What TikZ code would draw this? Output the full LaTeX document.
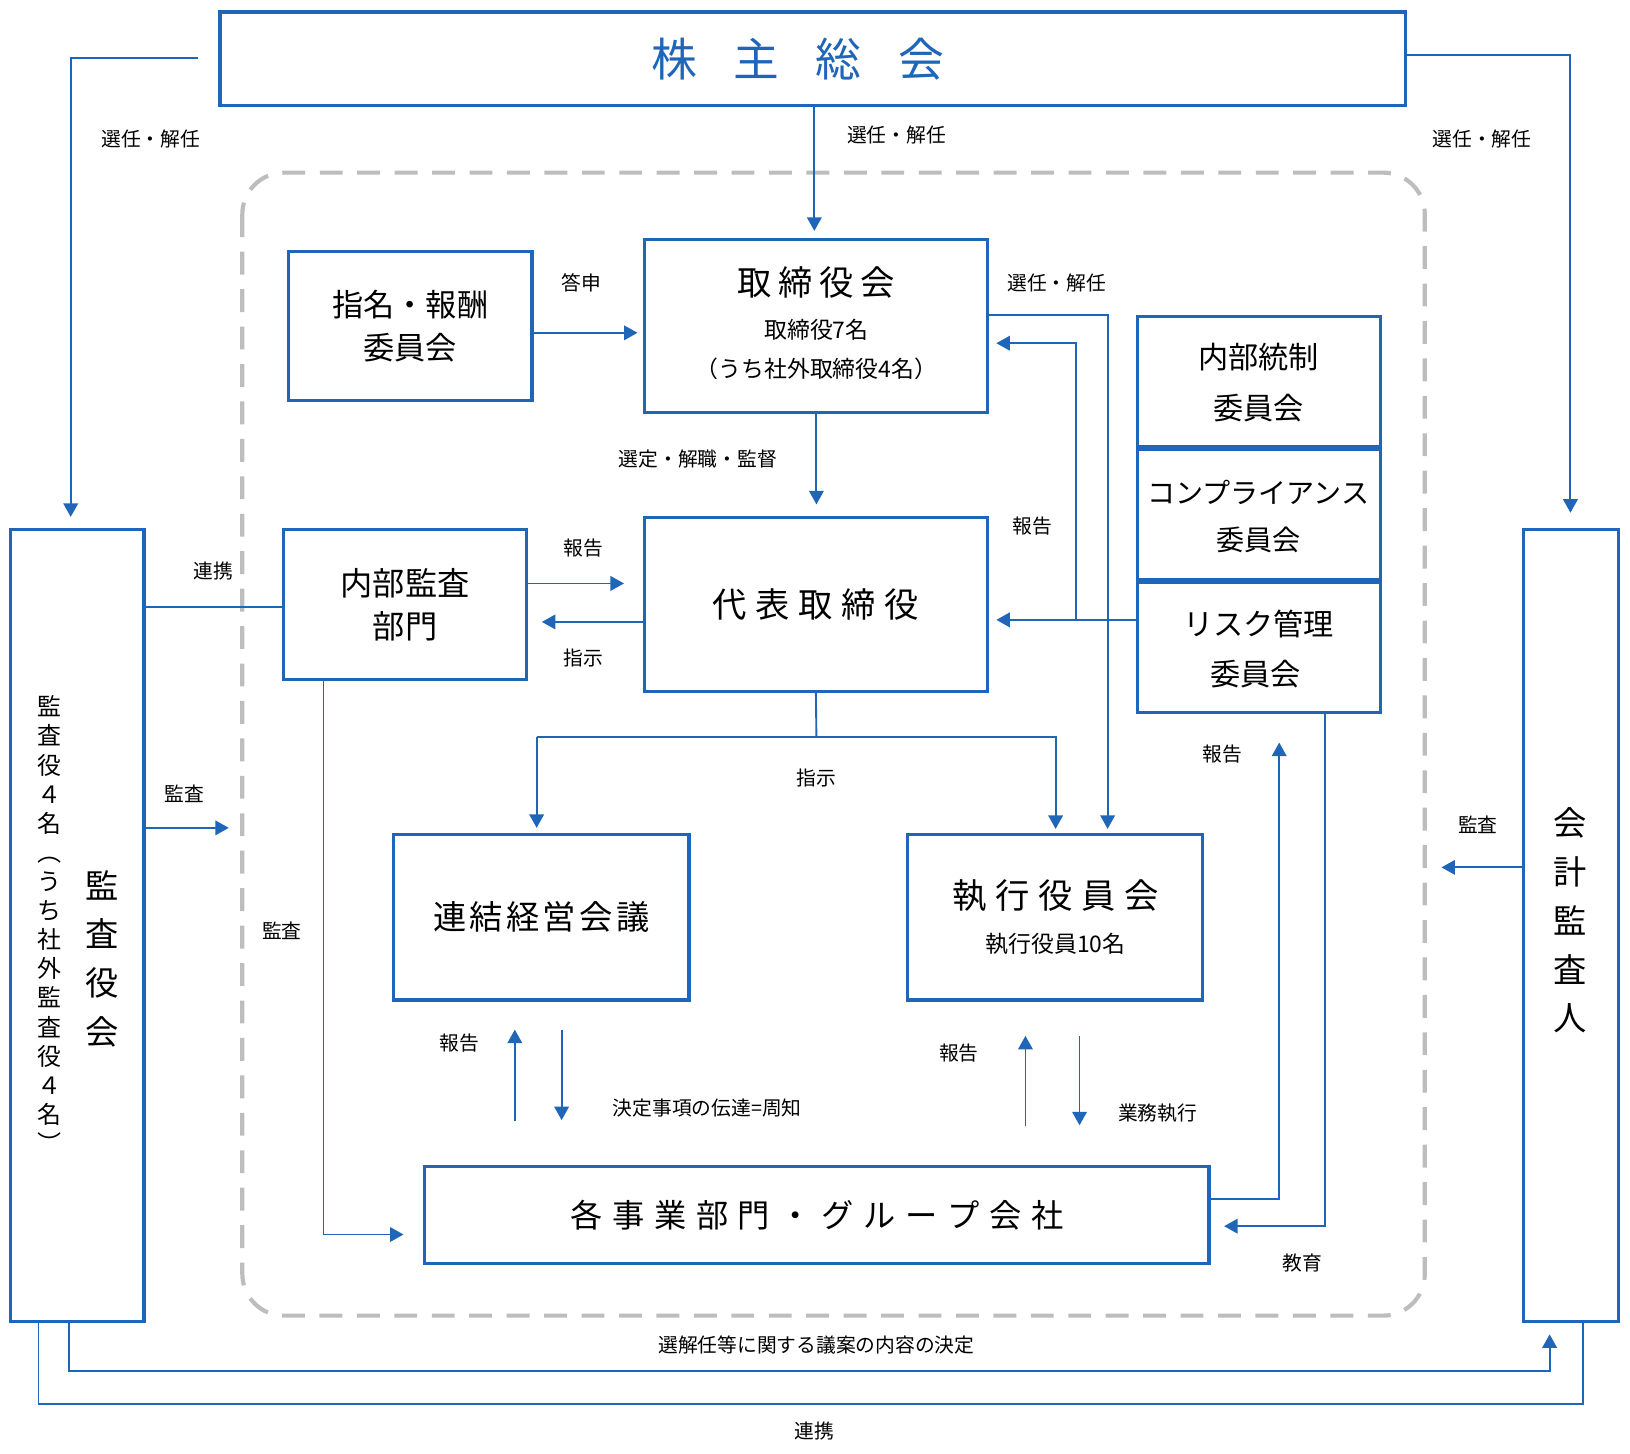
\documentclass[tikz,border=0pt]{standalone}
\usepackage{fontspec}
\setmainfont{Noto Sans CJK JP}
\usepackage{graphicx}
\usetikzlibrary{arrows.meta,calc}
\definecolor{bl}{HTML}{1F66B8}
\definecolor{gr}{HTML}{BDBDBD}
\newcommand{\fs}[1]{\fontsize{#1}{#1}\selectfont}
\newcommand{\rp}[1]{\rotatebox[origin=c]{-90}{#1}}
\begin{document}
\begin{tikzpicture}[x=1pt,y=-1pt,
  bx/.style={draw=bl,line width=3pt,inner sep=0pt,align=center},
  ln/.style={draw=bl,line width=1.8pt},
  ar/.style={ln,-{Triangle[width=14pt,length=13pt]}},
  lb/.style={font=\fs{19}, inner sep=0pt}]
\useasboundingbox (0,0) rectangle (1567.3,1398);
\newcommand{\bxn}[6]{\node[bx,minimum width={#4-#2-3},minimum height={#5-#3-3}] (#1) at ({(#2+#4)/2},{(#3+#5)/2}) {#6};}
% dashed frame
\draw[gr,line width=4pt,dash pattern=on 22pt off 14pt,rounded corners=40pt] (233,166) rectangle (1370,1265);
% boxes
\bxn{gm}{210}{10}{1353}{103}{}
\node[text=bl,font=\fs{44}] at (767,57) {株\hspace{0.8em}主\hspace{0.8em}総\hspace{0.8em}会};
\bxn{nom}{276}{240}{513}{387}{\fs{30}指名・報酬\\[12pt]\fs{30}委員会}
\bxn{bod}{618}{229}{951}{398}{}
\node[font=\fs{33}] at (785,272) {取\hspace{0.2em}締\hspace{0.2em}役\hspace{0.2em}会};
\node[font=\fs{22}] at (785,317) {取締役7名};
\node[font=\fs{22}] at (785,355) {（うち社外取締役4名）};
\bxn{ic}{1092}{303}{1329}{431}{}
\bxn{cc}{1092}{431}{1329}{559}{}
\bxn{rc}{1092}{559}{1329}{687}{}
\node[font=\fs{29}] at (1210,343) {内部統制};
\node[font=\fs{29}] at (1210,392) {委員会};
\node[font=\fs{27}] at (1210,473) {コンプライアンス};
\node[font=\fs{27}] at (1210,519) {委員会};
\node[font=\fs{29}] at (1210,600) {リスク管理};
\node[font=\fs{29}] at (1207,648) {委員会};
\bxn{ceo}{618}{496}{951}{666}{\fs{33}代\hspace{0.25em}表\hspace{0.25em}取\hspace{0.25em}締\hspace{0.25em}役}
\bxn{ia}{271}{508}{508}{655}{\fs{31}内部監査\\[12pt]\fs{31}部門}
\bxn{rm}{377}{801}{664}{963}{\fs{32}連\hspace{0.1em}結\hspace{0.1em}経\hspace{0.1em}営\hspace{0.1em}会\hspace{0.1em}議}
\bxn{eo}{871}{801}{1158}{963}{}
\node[font=\fs{33}] at (1015,861) {執\hspace{0.25em}行\hspace{0.25em}役\hspace{0.25em}員\hspace{0.25em}会};
\node[font=\fs{22}] at (1015,908) {執行役員10名};
\bxn{bu}{407}{1120}{1164}{1216}{\fs{31}各\hspace{0.3em}事\hspace{0.3em}業\hspace{0.3em}部\hspace{0.3em}門\hspace{0.3em}・\hspace{0.3em}グ\hspace{0.3em}ル\hspace{0.3em}ー\hspace{0.3em}プ\hspace{0.3em}会\hspace{0.3em}社}
\bxn{kb}{9}{508}{140}{1272}{}
\node[font=\fs{32},align=center,inner sep=0pt] at (98,922) {監\\[15pt]査\\[15pt]役\\[15pt]会};
\node[font=\fs{23},align=center,inner sep=0pt] at (48,890) {監\\[5pt]査\\[5pt]役\\[5pt]４\\[5pt]名\\[5pt]\rp{（}\\[5pt]う\\[5pt]ち\\[5pt]社\\[5pt]外\\[5pt]監\\[5pt]査\\[5pt]役\\[5pt]４\\[5pt]名\\[5pt]\rp{）}};
\bxn{au}{1463}{508}{1558}{1272}{}
\node[font=\fs{32},align=center,inner sep=0pt] at (1510,885) {会\\[15pt]計\\[15pt]監\\[15pt]査\\[15pt]人};
% connectors
\coordinate (gl) at (190,56);
\draw[ar] (gl) -- (68,56) -- (68,497);
\node[lb] at (145,134) {選任・解任};
\draw[ar] (gm.east |- 0,53) -- (1510,53) -- (1510,493);
\node[lb] at (1425,134) {選任・解任};
\draw[ar] (783,103) -- (783,222);
\node[lb] at (862,130) {選任・解任};
\draw[ar] (nom.east |- 0,320) -- (613,320);
\node[lb] at (559,272) {答申};
\draw[ar] (bod.east |- 0,303) -- (1065,303) -- (1065,797);
\node[lb] at (1016,272) {選任・解任};
\draw[ar] (1035,596) -- (1035,330) -- (958,330);
\draw[ar] (rc.west |- 0,596) -- (958,596);
\node[lb] at (993,506) {報告};
\draw[ar] (785,398) -- (785,485);
\node[lb] at (671,441) {選定・解職・監督};
\draw[ar] (ia.east |- 0,561) -- (600,561);
\node[lb] at (561,527) {報告};
\draw[ar] (ceo.west |- 0,598) -- (521,598);
\node[lb] at (561,633) {指示};
\draw[ln] (kb.east |- 0,584) -- (ia.west |- 0,584);
\node[lb] at (205,549) {連携};
\draw[ar] (kb.east |- 0,796) -- (220,796);
\node[lb] at (177,763) {監査};
\draw[ar] (311,655) -- (311,1187) -- (388,1187);
\node[lb] at (271,895) {監査};
\draw[ln] (ceo.south) -- (785,709);
\draw[ar] (516,709) -- (516,796);
\draw[ar] (516,709) -- (1015,709) -- (1015,797);
\node[lb] at (785,748) {指示};
\draw[ar] (495,1078) -- (495,990);
\draw[ar] (540,990) -- (540,1077);
\node[lb] at (442,1003) {報告};
\node[lb] at (680,1065) {決定事項の伝達=周知};
\draw[ar] (986,1083) -- (986,996);
\draw[ar] (1038,996) -- (1038,1082);
\node[lb] at (922,1013) {報告};
\node[lb] at (1113,1070) {業務執行};
\draw[ar] (bu.east |- 0,1153) -- (1230,1153) -- (1230,714);
\node[lb] at (1175,725) {報告};
\draw[ar] (1274,687) -- (1274,1179) -- (1177,1179);
\node[lb] at (1252,1214) {教育};
\draw[ar] (au.west |- 0,834) -- (1386,834);
\node[lb] at (1421,793) {監査};
\draw[ar] (66,1272) -- (66,1318) -- (1490,1318) -- (1490,1283);
\node[lb] at (785,1293) {選解任等に関する議案の内容の決定};
\draw[ln] (37,1272) -- (37,1350) -- (1522,1350) -- (1522,1272);
\node[lb] at (783,1376) {連携};
\end{tikzpicture}
\end{document}
